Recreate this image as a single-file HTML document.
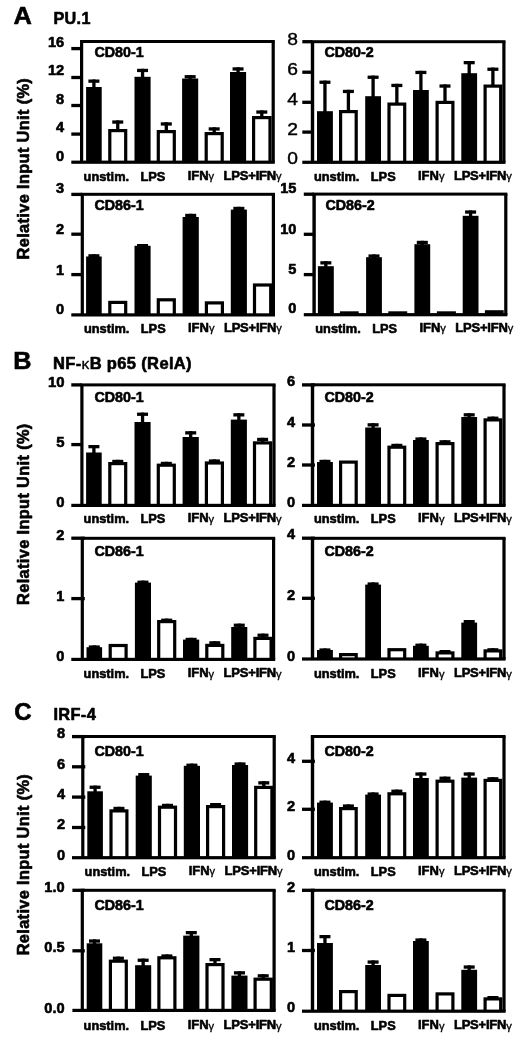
<!DOCTYPE html>
<html><head><meta charset="utf-8"><title>Figure</title>
<style>html,body{margin:0;padding:0;background:#fff}svg{display:block}svg{filter:blur(0.5px)}text{font-family:"Liberation Sans", sans-serif;fill:#000}text.g{font-size:11.2px;stroke:#000;stroke-width:0.3px}text.x{stroke-width:0.65px}text.r{stroke:#000;stroke-width:0.4px}text.b{font-weight:bold;stroke:#000;stroke-width:0.6px;stroke-linejoin:round}text.h{stroke-width:0.6px;letter-spacing:0.35px}</style>
</head><body>
<svg width="520" height="1038" viewBox="0 0 520 1038">
<rect x="0" y="0" width="520" height="1038" fill="#fff"/>
<g>
<rect x="80.00" y="40.00" width="194.80" height="3.00" fill="#000"/>
<rect x="80.00" y="41.50" width="3.20" height="120.80" fill="#000"/>
<rect x="271.60" y="41.50" width="3.20" height="120.80" fill="#000"/>
<rect x="71.30" y="160.60" width="203.50" height="3.20" fill="#000"/>
<rect x="71.30" y="46.95" width="10.20" height="3.30" fill="#000"/>
<text x="64.20" y="47.00" font-size="14.6" class="b" text-anchor="end">16</text>
<rect x="71.30" y="75.85" width="10.20" height="3.30" fill="#000"/>
<text x="64.20" y="75.30" font-size="14.6" class="b" text-anchor="end">12</text>
<rect x="71.30" y="103.85" width="10.20" height="3.30" fill="#000"/>
<text x="64.20" y="104.10" font-size="14.6" class="b" text-anchor="end">8</text>
<rect x="71.30" y="132.45" width="10.20" height="3.30" fill="#000"/>
<text x="64.20" y="131.90" font-size="14.6" class="b" text-anchor="end">4</text>
<text x="64.20" y="161.00" font-size="14.6" class="b" text-anchor="end">0</text>
<rect x="88.40" y="79.50" width="11.00" height="3.30" fill="#000"/>
<rect x="92.25" y="79.50" width="3.30" height="8.50" fill="#000"/>
<rect x="86.10" y="87.00" width="15.60" height="75.30" fill="#000"/>
<rect x="112.25" y="120.40" width="11.00" height="3.30" fill="#000"/>
<rect x="116.10" y="120.40" width="3.30" height="9.60" fill="#000"/>
<rect x="108.20" y="129.00" width="19.10" height="33.30" fill="#000"/>
<rect x="111.40" y="132.20" width="12.70" height="28.40" fill="#fff"/>
<rect x="137.05" y="68.80" width="11.00" height="3.30" fill="#000"/>
<rect x="140.90" y="68.80" width="3.30" height="9.00" fill="#000"/>
<rect x="134.50" y="76.80" width="16.10" height="85.50" fill="#000"/>
<rect x="160.80" y="122.30" width="11.00" height="3.30" fill="#000"/>
<rect x="164.65" y="122.30" width="3.30" height="8.70" fill="#000"/>
<rect x="156.70" y="130.00" width="19.20" height="32.30" fill="#000"/>
<rect x="159.90" y="133.20" width="12.80" height="27.40" fill="#fff"/>
<rect x="184.65" y="75.10" width="11.00" height="3.30" fill="#000"/>
<rect x="188.50" y="75.10" width="3.30" height="4.40" fill="#000"/>
<rect x="182.10" y="78.50" width="16.10" height="83.80" fill="#000"/>
<rect x="208.70" y="127.30" width="11.00" height="3.30" fill="#000"/>
<rect x="212.55" y="127.30" width="3.30" height="5.70" fill="#000"/>
<rect x="204.60" y="132.00" width="19.20" height="30.30" fill="#000"/>
<rect x="207.80" y="135.20" width="12.80" height="25.40" fill="#fff"/>
<rect x="232.55" y="67.30" width="11.00" height="3.30" fill="#000"/>
<rect x="236.40" y="67.30" width="3.30" height="5.70" fill="#000"/>
<rect x="230.00" y="72.00" width="16.10" height="90.30" fill="#000"/>
<rect x="256.30" y="110.40" width="11.00" height="3.30" fill="#000"/>
<rect x="260.15" y="110.40" width="3.30" height="6.60" fill="#000"/>
<rect x="252.00" y="116.00" width="19.60" height="46.30" fill="#000"/>
<rect x="255.20" y="119.20" width="13.20" height="41.40" fill="#fff"/>
<text x="94.40" y="57.00" font-size="14.3" class="b">CD80-1</text>
<text x="83.60" y="180.60" font-size="12.8" class="b x">unstim.</text>
<text x="140.50" y="180.60" font-size="12.8" class="b x">LPS</text>
<text x="187.70" y="179.60" font-size="13" class="b x" textLength="20.9" lengthAdjust="spacing">IFN</text>
<text x="208.60" y="180.20" class="g">&#947;</text>
<text x="223.60" y="179.60" font-size="13" class="b x" textLength="52.6" lengthAdjust="spacing">LPS+IFN</text>
<text x="276.00" y="180.20" class="g">&#947;</text>
</g>
<g>
<rect x="310.80" y="40.20" width="194.70" height="3.00" fill="#000"/>
<rect x="310.80" y="41.70" width="3.40" height="120.70" fill="#000"/>
<rect x="502.30" y="41.70" width="3.20" height="120.70" fill="#000"/>
<rect x="302.30" y="160.70" width="203.20" height="3.20" fill="#000"/>
<rect x="302.30" y="40.05" width="10.00" height="3.30" fill="#000"/>
<text transform="translate(297.90,44.80) scale(1.120,1)" font-size="17.2" class="r" text-anchor="end">8</text>
<rect x="302.30" y="70.55" width="10.00" height="3.30" fill="#000"/>
<text transform="translate(297.90,75.10) scale(1.120,1)" font-size="17.2" class="r" text-anchor="end">6</text>
<rect x="302.30" y="100.65" width="10.00" height="3.30" fill="#000"/>
<text transform="translate(297.90,105.00) scale(1.120,1)" font-size="17.2" class="r" text-anchor="end">4</text>
<rect x="302.30" y="130.45" width="10.00" height="3.30" fill="#000"/>
<text transform="translate(297.90,134.60) scale(1.120,1)" font-size="17.2" class="r" text-anchor="end">2</text>
<text transform="translate(297.90,164.30) scale(1.120,1)" font-size="17.2" class="r" text-anchor="end">0</text>
<rect x="319.45" y="80.60" width="11.00" height="3.30" fill="#000"/>
<rect x="323.30" y="80.60" width="3.30" height="31.60" fill="#000"/>
<rect x="317.00" y="111.20" width="15.90" height="51.20" fill="#000"/>
<rect x="342.90" y="89.80" width="11.00" height="3.30" fill="#000"/>
<rect x="346.75" y="89.80" width="3.30" height="21.20" fill="#000"/>
<rect x="339.00" y="110.00" width="18.80" height="52.40" fill="#000"/>
<rect x="342.20" y="113.20" width="12.40" height="47.50" fill="#fff"/>
<rect x="367.60" y="75.60" width="11.00" height="3.30" fill="#000"/>
<rect x="371.45" y="75.60" width="3.30" height="21.60" fill="#000"/>
<rect x="365.20" y="96.20" width="15.80" height="66.20" fill="#000"/>
<rect x="391.35" y="83.80" width="11.00" height="3.30" fill="#000"/>
<rect x="395.20" y="83.80" width="3.30" height="19.70" fill="#000"/>
<rect x="387.40" y="102.50" width="18.90" height="59.90" fill="#000"/>
<rect x="390.60" y="105.70" width="12.50" height="55.00" fill="#fff"/>
<rect x="415.40" y="70.80" width="11.00" height="3.30" fill="#000"/>
<rect x="419.25" y="70.80" width="3.30" height="20.20" fill="#000"/>
<rect x="413.00" y="90.00" width="15.80" height="72.40" fill="#000"/>
<rect x="439.50" y="84.40" width="11.00" height="3.30" fill="#000"/>
<rect x="443.35" y="84.40" width="3.30" height="17.40" fill="#000"/>
<rect x="435.50" y="100.80" width="19.00" height="61.60" fill="#000"/>
<rect x="438.70" y="104.00" width="12.60" height="56.70" fill="#fff"/>
<rect x="463.70" y="61.00" width="11.00" height="3.30" fill="#000"/>
<rect x="467.55" y="61.00" width="3.30" height="13.20" fill="#000"/>
<rect x="461.30" y="73.20" width="15.80" height="89.20" fill="#000"/>
<rect x="487.40" y="67.60" width="11.00" height="3.30" fill="#000"/>
<rect x="491.25" y="67.60" width="3.30" height="17.90" fill="#000"/>
<rect x="483.50" y="84.50" width="18.80" height="77.90" fill="#000"/>
<rect x="486.70" y="87.70" width="12.40" height="73.00" fill="#fff"/>
<text x="324.40" y="57.00" font-size="14.3" class="b">CD80-2</text>
<text x="313.90" y="180.60" font-size="12.8" class="b x">unstim.</text>
<text x="370.80" y="180.60" font-size="12.8" class="b x">LPS</text>
<text x="418.00" y="179.60" font-size="13" class="b x" textLength="20.9" lengthAdjust="spacing">IFN</text>
<text x="438.90" y="180.20" class="g">&#947;</text>
<text x="453.90" y="179.60" font-size="13" class="b x" textLength="52.6" lengthAdjust="spacing">LPS+IFN</text>
<text x="506.30" y="180.20" class="g">&#947;</text>
</g>
<g>
<rect x="80.70" y="192.80" width="194.30" height="3.00" fill="#000"/>
<rect x="80.70" y="194.30" width="3.20" height="120.70" fill="#000"/>
<rect x="271.80" y="194.30" width="3.20" height="120.70" fill="#000"/>
<rect x="71.30" y="313.30" width="203.70" height="3.20" fill="#000"/>
<rect x="71.30" y="192.75" width="10.90" height="3.30" fill="#000"/>
<text x="64.20" y="193.20" font-size="14.6" class="b" text-anchor="end">3</text>
<rect x="71.30" y="232.55" width="10.90" height="3.30" fill="#000"/>
<text x="64.20" y="234.40" font-size="14.6" class="b" text-anchor="end">2</text>
<rect x="71.30" y="272.95" width="10.90" height="3.30" fill="#000"/>
<text x="64.20" y="274.70" font-size="14.6" class="b" text-anchor="end">1</text>
<text x="64.20" y="314.30" font-size="14.6" class="b" text-anchor="end">0</text>
<rect x="88.40" y="254.20" width="11.00" height="3.30" fill="#000"/>
<rect x="92.25" y="254.20" width="3.30" height="3.30" fill="#000"/>
<rect x="86.10" y="256.50" width="15.60" height="58.50" fill="#000"/>
<rect x="108.20" y="300.80" width="19.10" height="14.20" fill="#000"/>
<rect x="111.40" y="304.00" width="12.70" height="9.30" fill="#fff"/>
<rect x="137.05" y="244.00" width="11.00" height="3.30" fill="#000"/>
<rect x="140.90" y="244.00" width="3.30" height="2.80" fill="#000"/>
<rect x="134.50" y="245.80" width="16.10" height="69.20" fill="#000"/>
<rect x="156.70" y="298.20" width="19.20" height="16.80" fill="#000"/>
<rect x="159.90" y="301.40" width="12.80" height="11.90" fill="#fff"/>
<rect x="185.20" y="213.80" width="11.00" height="3.30" fill="#000"/>
<rect x="189.05" y="213.80" width="3.30" height="4.20" fill="#000"/>
<rect x="182.60" y="217.00" width="16.20" height="98.00" fill="#000"/>
<rect x="204.80" y="301.30" width="19.20" height="13.70" fill="#000"/>
<rect x="208.00" y="304.50" width="12.80" height="8.80" fill="#fff"/>
<rect x="233.35" y="206.80" width="11.00" height="3.30" fill="#000"/>
<rect x="237.20" y="206.80" width="3.30" height="3.80" fill="#000"/>
<rect x="230.80" y="209.60" width="16.10" height="105.40" fill="#000"/>
<rect x="252.90" y="283.40" width="19.40" height="31.60" fill="#000"/>
<rect x="256.10" y="286.60" width="13.00" height="26.70" fill="#fff"/>
<text x="94.40" y="210.00" font-size="14.3" class="b">CD86-1</text>
<text x="83.90" y="332.60" font-size="12.8" class="b x">unstim.</text>
<text x="140.80" y="332.60" font-size="12.8" class="b x">LPS</text>
<text x="188.00" y="331.60" font-size="13" class="b x" textLength="20.9" lengthAdjust="spacing">IFN</text>
<text x="208.90" y="332.20" class="g">&#947;</text>
<text x="223.90" y="331.60" font-size="13" class="b x" textLength="52.6" lengthAdjust="spacing">LPS+IFN</text>
<text x="276.30" y="332.20" class="g">&#947;</text>
</g>
<g>
<rect x="312.40" y="192.60" width="195.00" height="3.00" fill="#000"/>
<rect x="312.40" y="194.10" width="3.40" height="120.70" fill="#000"/>
<rect x="504.20" y="194.10" width="3.20" height="120.70" fill="#000"/>
<rect x="303.80" y="313.10" width="203.60" height="3.20" fill="#000"/>
<rect x="303.80" y="192.55" width="10.10" height="3.30" fill="#000"/>
<text x="296.40" y="192.60" font-size="14.6" class="b" text-anchor="end">15</text>
<rect x="303.80" y="232.65" width="10.10" height="3.30" fill="#000"/>
<text x="296.40" y="233.70" font-size="14.6" class="b" text-anchor="end">10</text>
<rect x="303.80" y="272.95" width="10.10" height="3.30" fill="#000"/>
<text x="296.40" y="274.40" font-size="14.6" class="b" text-anchor="end">5</text>
<text x="296.40" y="313.20" font-size="14.6" class="b" text-anchor="end">0</text>
<rect x="320.35" y="261.20" width="11.00" height="3.30" fill="#000"/>
<rect x="324.20" y="261.20" width="3.30" height="6.00" fill="#000"/>
<rect x="317.90" y="266.20" width="15.90" height="48.60" fill="#000"/>
<rect x="339.90" y="311.30" width="18.80" height="3.50" fill="#000"/>
<rect x="368.50" y="254.40" width="11.00" height="3.30" fill="#000"/>
<rect x="372.35" y="254.40" width="3.30" height="3.80" fill="#000"/>
<rect x="366.10" y="257.20" width="15.80" height="57.60" fill="#000"/>
<rect x="388.30" y="311.30" width="18.90" height="3.50" fill="#000"/>
<rect x="416.80" y="240.80" width="11.00" height="3.30" fill="#000"/>
<rect x="420.65" y="240.80" width="3.30" height="4.40" fill="#000"/>
<rect x="414.40" y="244.20" width="15.80" height="70.60" fill="#000"/>
<rect x="436.90" y="311.30" width="19.00" height="3.50" fill="#000"/>
<rect x="465.10" y="210.40" width="11.00" height="3.30" fill="#000"/>
<rect x="468.95" y="210.40" width="3.30" height="6.40" fill="#000"/>
<rect x="462.70" y="215.80" width="15.80" height="99.00" fill="#000"/>
<rect x="484.90" y="310.20" width="18.80" height="4.60" fill="#000"/>
<text x="325.40" y="210.00" font-size="14.3" class="b">CD86-2</text>
<text x="315.30" y="332.60" font-size="12.8" class="b x">unstim.</text>
<text x="372.20" y="332.60" font-size="12.8" class="b x">LPS</text>
<text x="419.40" y="331.60" font-size="13" class="b x" textLength="20.9" lengthAdjust="spacing">IFN</text>
<text x="440.30" y="332.20" class="g">&#947;</text>
<text x="455.30" y="331.60" font-size="13" class="b x" textLength="52.6" lengthAdjust="spacing">LPS+IFN</text>
<text x="507.70" y="332.20" class="g">&#947;</text>
</g>
<g>
<rect x="80.30" y="383.40" width="195.30" height="3.00" fill="#000"/>
<rect x="80.30" y="384.90" width="3.20" height="120.60" fill="#000"/>
<rect x="272.40" y="384.90" width="3.20" height="120.60" fill="#000"/>
<rect x="71.30" y="503.80" width="204.30" height="3.20" fill="#000"/>
<rect x="71.30" y="383.25" width="10.50" height="3.30" fill="#000"/>
<text x="64.60" y="386.70" font-size="14.9" class="b" text-anchor="end">10</text>
<rect x="71.30" y="442.95" width="10.50" height="3.30" fill="#000"/>
<text x="64.60" y="447.00" font-size="14.9" class="b" text-anchor="end">5</text>
<text x="64.60" y="507.00" font-size="14.9" class="b" text-anchor="end">0</text>
<rect x="88.40" y="445.00" width="11.00" height="3.30" fill="#000"/>
<rect x="92.25" y="445.00" width="3.30" height="8.50" fill="#000"/>
<rect x="86.10" y="452.50" width="15.60" height="53.00" fill="#000"/>
<rect x="112.25" y="459.80" width="11.00" height="3.30" fill="#000"/>
<rect x="116.10" y="459.80" width="3.30" height="3.20" fill="#000"/>
<rect x="108.20" y="462.00" width="19.10" height="43.50" fill="#000"/>
<rect x="111.40" y="465.20" width="12.70" height="38.60" fill="#fff"/>
<rect x="137.05" y="412.60" width="11.00" height="3.30" fill="#000"/>
<rect x="140.90" y="412.60" width="3.30" height="10.40" fill="#000"/>
<rect x="134.50" y="422.00" width="16.10" height="83.50" fill="#000"/>
<rect x="160.80" y="461.80" width="11.00" height="3.30" fill="#000"/>
<rect x="164.65" y="461.80" width="3.30" height="2.80" fill="#000"/>
<rect x="156.70" y="463.60" width="19.20" height="41.90" fill="#000"/>
<rect x="159.90" y="466.80" width="12.80" height="37.00" fill="#fff"/>
<rect x="185.20" y="431.20" width="11.00" height="3.30" fill="#000"/>
<rect x="189.05" y="431.20" width="3.30" height="6.80" fill="#000"/>
<rect x="182.60" y="437.00" width="16.20" height="68.50" fill="#000"/>
<rect x="208.90" y="459.40" width="11.00" height="3.30" fill="#000"/>
<rect x="212.75" y="459.40" width="3.30" height="3.00" fill="#000"/>
<rect x="204.80" y="461.40" width="19.20" height="44.10" fill="#000"/>
<rect x="208.00" y="464.60" width="12.80" height="39.20" fill="#fff"/>
<rect x="233.35" y="413.20" width="11.00" height="3.30" fill="#000"/>
<rect x="237.20" y="413.20" width="3.30" height="7.40" fill="#000"/>
<rect x="230.80" y="419.60" width="16.10" height="85.90" fill="#000"/>
<rect x="257.10" y="437.80" width="11.00" height="3.30" fill="#000"/>
<rect x="260.95" y="437.80" width="3.30" height="4.50" fill="#000"/>
<rect x="252.90" y="441.30" width="19.40" height="64.20" fill="#000"/>
<rect x="256.10" y="444.50" width="13.00" height="59.30" fill="#fff"/>
<text x="94.40" y="402.00" font-size="14.3" class="b">CD80-1</text>
<text x="83.60" y="523.30" font-size="12.8" class="b x">unstim.</text>
<text x="140.50" y="523.30" font-size="12.8" class="b x">LPS</text>
<text x="187.70" y="522.30" font-size="13" class="b x" textLength="20.9" lengthAdjust="spacing">IFN</text>
<text x="208.60" y="522.90" class="g">&#947;</text>
<text x="223.60" y="522.30" font-size="13" class="b x" textLength="52.6" lengthAdjust="spacing">LPS+IFN</text>
<text x="276.00" y="522.90" class="g">&#947;</text>
</g>
<g>
<rect x="310.80" y="383.30" width="194.80" height="3.00" fill="#000"/>
<rect x="310.80" y="384.80" width="3.40" height="120.70" fill="#000"/>
<rect x="502.40" y="384.80" width="3.20" height="120.70" fill="#000"/>
<rect x="302.00" y="503.80" width="203.60" height="3.20" fill="#000"/>
<rect x="302.00" y="383.25" width="12.90" height="3.30" fill="#000"/>
<text x="295.20" y="386.30" font-size="14.6" class="b" text-anchor="end">6</text>
<rect x="302.00" y="423.35" width="12.90" height="3.30" fill="#000"/>
<text x="295.20" y="427.00" font-size="14.6" class="b" text-anchor="end">4</text>
<rect x="302.00" y="463.35" width="12.90" height="3.30" fill="#000"/>
<text x="295.20" y="467.20" font-size="14.6" class="b" text-anchor="end">2</text>
<text x="295.20" y="506.90" font-size="14.6" class="b" text-anchor="end">0</text>
<rect x="319.45" y="459.80" width="11.00" height="3.30" fill="#000"/>
<rect x="323.30" y="459.80" width="3.30" height="3.20" fill="#000"/>
<rect x="317.00" y="462.00" width="15.90" height="43.50" fill="#000"/>
<rect x="339.00" y="460.50" width="18.80" height="45.00" fill="#000"/>
<rect x="342.20" y="463.70" width="12.40" height="40.10" fill="#fff"/>
<rect x="367.60" y="423.20" width="11.00" height="3.30" fill="#000"/>
<rect x="371.45" y="423.20" width="3.30" height="5.30" fill="#000"/>
<rect x="365.20" y="427.50" width="15.80" height="78.00" fill="#000"/>
<rect x="391.35" y="443.80" width="11.00" height="3.30" fill="#000"/>
<rect x="395.20" y="443.80" width="3.30" height="2.80" fill="#000"/>
<rect x="387.40" y="445.60" width="18.90" height="59.90" fill="#000"/>
<rect x="390.60" y="448.80" width="12.50" height="55.00" fill="#fff"/>
<rect x="415.40" y="437.40" width="11.00" height="3.30" fill="#000"/>
<rect x="419.25" y="437.40" width="3.30" height="3.60" fill="#000"/>
<rect x="413.00" y="440.00" width="15.80" height="65.50" fill="#000"/>
<rect x="439.50" y="440.20" width="11.00" height="3.30" fill="#000"/>
<rect x="443.35" y="440.20" width="3.30" height="2.80" fill="#000"/>
<rect x="435.50" y="442.00" width="19.00" height="63.50" fill="#000"/>
<rect x="438.70" y="445.20" width="12.60" height="58.60" fill="#fff"/>
<rect x="463.70" y="413.20" width="11.00" height="3.30" fill="#000"/>
<rect x="467.55" y="413.20" width="3.30" height="4.80" fill="#000"/>
<rect x="461.30" y="417.00" width="15.80" height="88.50" fill="#000"/>
<rect x="487.40" y="416.60" width="11.00" height="3.30" fill="#000"/>
<rect x="491.25" y="416.60" width="3.30" height="2.70" fill="#000"/>
<rect x="483.50" y="418.30" width="18.80" height="87.20" fill="#000"/>
<rect x="486.70" y="421.50" width="12.40" height="82.30" fill="#fff"/>
<text x="324.40" y="402.00" font-size="14.3" class="b">CD80-2</text>
<text x="313.90" y="523.30" font-size="12.8" class="b x">unstim.</text>
<text x="370.80" y="523.30" font-size="12.8" class="b x">LPS</text>
<text x="418.00" y="522.30" font-size="13" class="b x" textLength="20.9" lengthAdjust="spacing">IFN</text>
<text x="438.90" y="522.90" class="g">&#947;</text>
<text x="453.90" y="522.30" font-size="13" class="b x" textLength="52.6" lengthAdjust="spacing">LPS+IFN</text>
<text x="506.30" y="522.90" class="g">&#947;</text>
</g>
<g>
<rect x="80.70" y="536.80" width="194.50" height="3.00" fill="#000"/>
<rect x="80.70" y="538.30" width="3.20" height="121.20" fill="#000"/>
<rect x="272.00" y="538.30" width="3.20" height="121.20" fill="#000"/>
<rect x="71.30" y="657.80" width="203.90" height="3.20" fill="#000"/>
<rect x="71.30" y="536.55" width="13.50" height="3.30" fill="#000"/>
<text x="64.40" y="539.80" font-size="14.6" class="b" text-anchor="end">2</text>
<rect x="71.30" y="596.95" width="13.50" height="3.30" fill="#000"/>
<text x="64.40" y="600.60" font-size="14.6" class="b" text-anchor="end">1</text>
<text x="64.40" y="661.00" font-size="14.6" class="b" text-anchor="end">0</text>
<rect x="88.80" y="645.40" width="11.00" height="3.30" fill="#000"/>
<rect x="92.65" y="645.40" width="3.30" height="2.80" fill="#000"/>
<rect x="86.50" y="647.20" width="15.60" height="12.30" fill="#000"/>
<rect x="108.60" y="643.90" width="19.10" height="15.60" fill="#000"/>
<rect x="111.80" y="647.10" width="12.70" height="10.70" fill="#fff"/>
<rect x="137.45" y="580.60" width="11.00" height="3.30" fill="#000"/>
<rect x="141.30" y="580.60" width="3.30" height="3.00" fill="#000"/>
<rect x="134.90" y="582.60" width="16.10" height="76.90" fill="#000"/>
<rect x="161.20" y="618.60" width="11.00" height="3.30" fill="#000"/>
<rect x="165.05" y="618.60" width="3.30" height="2.40" fill="#000"/>
<rect x="157.10" y="620.00" width="19.20" height="39.50" fill="#000"/>
<rect x="160.30" y="623.20" width="12.80" height="34.60" fill="#fff"/>
<rect x="185.60" y="637.80" width="11.00" height="3.30" fill="#000"/>
<rect x="189.45" y="637.80" width="3.30" height="2.80" fill="#000"/>
<rect x="183.00" y="639.60" width="16.20" height="19.90" fill="#000"/>
<rect x="209.30" y="641.20" width="11.00" height="3.30" fill="#000"/>
<rect x="213.15" y="641.20" width="3.30" height="3.60" fill="#000"/>
<rect x="205.20" y="643.80" width="19.20" height="15.70" fill="#000"/>
<rect x="208.40" y="647.00" width="12.80" height="10.80" fill="#fff"/>
<rect x="233.75" y="623.60" width="11.00" height="3.30" fill="#000"/>
<rect x="237.60" y="623.60" width="3.30" height="4.40" fill="#000"/>
<rect x="231.20" y="627.00" width="16.10" height="32.50" fill="#000"/>
<rect x="257.50" y="633.60" width="11.00" height="3.30" fill="#000"/>
<rect x="261.35" y="633.60" width="3.30" height="4.20" fill="#000"/>
<rect x="253.30" y="636.80" width="19.40" height="22.70" fill="#000"/>
<rect x="256.50" y="640.00" width="13.00" height="17.80" fill="#fff"/>
<text x="94.40" y="556.30" font-size="14.3" class="b">CD86-1</text>
<text x="83.60" y="677.90" font-size="12.8" class="b x">unstim.</text>
<text x="140.50" y="677.90" font-size="12.8" class="b x">LPS</text>
<text x="187.70" y="676.90" font-size="13" class="b x" textLength="20.9" lengthAdjust="spacing">IFN</text>
<text x="208.60" y="677.50" class="g">&#947;</text>
<text x="223.60" y="676.90" font-size="13" class="b x" textLength="52.6" lengthAdjust="spacing">LPS+IFN</text>
<text x="276.00" y="677.50" class="g">&#947;</text>
</g>
<g>
<rect x="310.80" y="536.80" width="194.80" height="3.00" fill="#000"/>
<rect x="310.80" y="538.30" width="3.40" height="120.80" fill="#000"/>
<rect x="502.40" y="538.30" width="3.20" height="120.80" fill="#000"/>
<rect x="302.00" y="657.40" width="203.60" height="3.20" fill="#000"/>
<rect x="302.00" y="536.55" width="12.90" height="3.30" fill="#000"/>
<text x="295.20" y="539.30" font-size="14.6" class="b" text-anchor="end">4</text>
<rect x="302.00" y="596.65" width="12.90" height="3.30" fill="#000"/>
<text x="295.20" y="599.80" font-size="14.6" class="b" text-anchor="end">2</text>
<text x="295.20" y="661.00" font-size="14.6" class="b" text-anchor="end">0</text>
<rect x="319.45" y="648.40" width="11.00" height="3.30" fill="#000"/>
<rect x="323.30" y="648.40" width="3.30" height="2.60" fill="#000"/>
<rect x="317.00" y="650.00" width="15.90" height="9.10" fill="#000"/>
<rect x="339.00" y="653.00" width="18.80" height="6.10" fill="#000"/>
<rect x="342.20" y="656.20" width="12.40" height="1.20" fill="#fff"/>
<rect x="367.60" y="582.40" width="11.00" height="3.30" fill="#000"/>
<rect x="371.45" y="582.40" width="3.30" height="3.20" fill="#000"/>
<rect x="365.20" y="584.60" width="15.80" height="74.50" fill="#000"/>
<rect x="387.40" y="648.10" width="18.90" height="11.00" fill="#000"/>
<rect x="390.60" y="651.30" width="12.50" height="6.10" fill="#fff"/>
<rect x="415.40" y="643.60" width="11.00" height="3.30" fill="#000"/>
<rect x="419.25" y="643.60" width="3.30" height="3.20" fill="#000"/>
<rect x="413.00" y="645.80" width="15.80" height="13.30" fill="#000"/>
<rect x="439.50" y="650.00" width="11.00" height="3.30" fill="#000"/>
<rect x="443.35" y="650.00" width="3.30" height="2.30" fill="#000"/>
<rect x="435.50" y="651.30" width="19.00" height="7.80" fill="#000"/>
<rect x="438.70" y="654.50" width="12.60" height="2.90" fill="#fff"/>
<rect x="463.70" y="620.00" width="11.00" height="3.30" fill="#000"/>
<rect x="467.55" y="620.00" width="3.30" height="3.60" fill="#000"/>
<rect x="461.30" y="622.60" width="15.80" height="36.50" fill="#000"/>
<rect x="487.40" y="648.20" width="11.00" height="3.30" fill="#000"/>
<rect x="491.25" y="648.20" width="3.30" height="2.10" fill="#000"/>
<rect x="483.50" y="649.30" width="18.80" height="9.80" fill="#000"/>
<rect x="486.70" y="652.50" width="12.40" height="4.90" fill="#fff"/>
<text x="324.40" y="556.30" font-size="14.3" class="b">CD86-2</text>
<text x="313.90" y="677.90" font-size="12.8" class="b x">unstim.</text>
<text x="370.80" y="677.90" font-size="12.8" class="b x">LPS</text>
<text x="418.00" y="676.90" font-size="13" class="b x" textLength="20.9" lengthAdjust="spacing">IFN</text>
<text x="438.90" y="677.50" class="g">&#947;</text>
<text x="453.90" y="676.90" font-size="13" class="b x" textLength="52.6" lengthAdjust="spacing">LPS+IFN</text>
<text x="506.30" y="677.50" class="g">&#947;</text>
</g>
<g>
<rect x="81.20" y="735.00" width="194.60" height="3.00" fill="#000"/>
<rect x="81.20" y="736.50" width="3.20" height="121.30" fill="#000"/>
<rect x="272.60" y="736.50" width="3.20" height="121.30" fill="#000"/>
<rect x="72.00" y="856.10" width="203.80" height="3.20" fill="#000"/>
<rect x="72.00" y="734.95" width="13.30" height="3.30" fill="#000"/>
<text x="65.00" y="738.10" font-size="14.6" class="b" text-anchor="end">8</text>
<rect x="72.00" y="765.15" width="13.30" height="3.30" fill="#000"/>
<text x="65.00" y="768.60" font-size="14.6" class="b" text-anchor="end">6</text>
<rect x="72.00" y="795.45" width="13.30" height="3.30" fill="#000"/>
<text x="65.00" y="798.80" font-size="14.6" class="b" text-anchor="end">4</text>
<rect x="72.00" y="825.85" width="13.30" height="3.30" fill="#000"/>
<text x="65.00" y="829.30" font-size="14.6" class="b" text-anchor="end">2</text>
<text x="65.00" y="859.70" font-size="14.6" class="b" text-anchor="end">0</text>
<rect x="89.60" y="785.60" width="11.00" height="3.30" fill="#000"/>
<rect x="93.45" y="785.60" width="3.30" height="6.70" fill="#000"/>
<rect x="87.30" y="791.30" width="15.60" height="66.50" fill="#000"/>
<rect x="113.45" y="806.80" width="11.00" height="3.30" fill="#000"/>
<rect x="117.30" y="806.80" width="3.30" height="3.50" fill="#000"/>
<rect x="109.40" y="809.30" width="19.10" height="48.50" fill="#000"/>
<rect x="112.60" y="812.50" width="12.70" height="43.60" fill="#fff"/>
<rect x="138.25" y="773.00" width="11.00" height="3.30" fill="#000"/>
<rect x="142.10" y="773.00" width="3.30" height="3.60" fill="#000"/>
<rect x="135.70" y="775.60" width="16.10" height="82.20" fill="#000"/>
<rect x="162.00" y="803.80" width="11.00" height="3.30" fill="#000"/>
<rect x="165.85" y="803.80" width="3.30" height="2.80" fill="#000"/>
<rect x="157.90" y="805.60" width="19.20" height="52.20" fill="#000"/>
<rect x="161.10" y="808.80" width="12.80" height="47.30" fill="#fff"/>
<rect x="186.40" y="763.60" width="11.00" height="3.30" fill="#000"/>
<rect x="190.25" y="763.60" width="3.30" height="3.20" fill="#000"/>
<rect x="183.80" y="765.80" width="16.20" height="92.00" fill="#000"/>
<rect x="210.10" y="803.00" width="11.00" height="3.30" fill="#000"/>
<rect x="213.95" y="803.00" width="3.30" height="3.00" fill="#000"/>
<rect x="206.00" y="805.00" width="19.20" height="52.80" fill="#000"/>
<rect x="209.20" y="808.20" width="12.80" height="47.90" fill="#fff"/>
<rect x="234.55" y="762.40" width="11.00" height="3.30" fill="#000"/>
<rect x="238.40" y="762.40" width="3.30" height="3.60" fill="#000"/>
<rect x="232.00" y="765.00" width="16.10" height="92.80" fill="#000"/>
<rect x="258.30" y="781.20" width="11.00" height="3.30" fill="#000"/>
<rect x="262.15" y="781.20" width="3.30" height="5.60" fill="#000"/>
<rect x="254.10" y="785.80" width="19.40" height="72.00" fill="#000"/>
<rect x="257.30" y="789.00" width="13.00" height="67.10" fill="#fff"/>
<text x="94.40" y="755.80" font-size="14.3" class="b">CD80-1</text>
<text x="84.60" y="875.60" font-size="12.8" class="b x">unstim.</text>
<text x="141.50" y="875.60" font-size="12.8" class="b x">LPS</text>
<text x="188.70" y="874.60" font-size="13" class="b x" textLength="20.9" lengthAdjust="spacing">IFN</text>
<text x="209.60" y="875.20" class="g">&#947;</text>
<text x="224.60" y="874.60" font-size="13" class="b x" textLength="52.6" lengthAdjust="spacing">LPS+IFN</text>
<text x="277.00" y="875.20" class="g">&#947;</text>
</g>
<g>
<rect x="310.80" y="735.00" width="194.80" height="3.00" fill="#000"/>
<rect x="310.80" y="736.50" width="3.40" height="121.30" fill="#000"/>
<rect x="502.40" y="736.50" width="3.20" height="121.30" fill="#000"/>
<rect x="302.00" y="856.10" width="203.60" height="3.20" fill="#000"/>
<rect x="302.00" y="759.65" width="12.90" height="3.30" fill="#000"/>
<text x="295.20" y="763.10" font-size="14.6" class="b" text-anchor="end">4</text>
<rect x="302.00" y="807.65" width="12.90" height="3.30" fill="#000"/>
<text x="295.20" y="811.30" font-size="14.6" class="b" text-anchor="end">2</text>
<text x="295.20" y="859.70" font-size="14.6" class="b" text-anchor="end">0</text>
<rect x="319.45" y="800.60" width="11.00" height="3.30" fill="#000"/>
<rect x="323.30" y="800.60" width="3.30" height="3.00" fill="#000"/>
<rect x="317.00" y="802.60" width="15.90" height="55.20" fill="#000"/>
<rect x="342.90" y="804.40" width="11.00" height="3.30" fill="#000"/>
<rect x="346.75" y="804.40" width="3.30" height="3.60" fill="#000"/>
<rect x="339.00" y="807.00" width="18.80" height="50.80" fill="#000"/>
<rect x="342.20" y="810.20" width="12.40" height="45.90" fill="#fff"/>
<rect x="367.60" y="792.40" width="11.00" height="3.30" fill="#000"/>
<rect x="371.45" y="792.40" width="3.30" height="3.20" fill="#000"/>
<rect x="365.20" y="794.60" width="15.80" height="63.20" fill="#000"/>
<rect x="391.35" y="789.60" width="11.00" height="3.30" fill="#000"/>
<rect x="395.20" y="789.60" width="3.30" height="3.60" fill="#000"/>
<rect x="387.40" y="792.20" width="18.90" height="65.60" fill="#000"/>
<rect x="390.60" y="795.40" width="12.50" height="60.70" fill="#fff"/>
<rect x="415.40" y="772.40" width="11.00" height="3.30" fill="#000"/>
<rect x="419.25" y="772.40" width="3.30" height="6.60" fill="#000"/>
<rect x="413.00" y="778.00" width="15.80" height="79.80" fill="#000"/>
<rect x="439.50" y="776.60" width="11.00" height="3.30" fill="#000"/>
<rect x="443.35" y="776.60" width="3.30" height="4.00" fill="#000"/>
<rect x="435.50" y="779.60" width="19.00" height="78.20" fill="#000"/>
<rect x="438.70" y="782.80" width="12.60" height="73.30" fill="#fff"/>
<rect x="463.70" y="772.40" width="11.00" height="3.30" fill="#000"/>
<rect x="467.55" y="772.40" width="3.30" height="6.20" fill="#000"/>
<rect x="461.30" y="777.60" width="15.80" height="80.20" fill="#000"/>
<rect x="487.40" y="777.20" width="11.00" height="3.30" fill="#000"/>
<rect x="491.25" y="777.20" width="3.30" height="2.60" fill="#000"/>
<rect x="483.50" y="778.80" width="18.80" height="79.00" fill="#000"/>
<rect x="486.70" y="782.00" width="12.40" height="74.10" fill="#fff"/>
<text x="324.40" y="755.80" font-size="14.3" class="b">CD80-2</text>
<text x="313.90" y="875.60" font-size="12.8" class="b x">unstim.</text>
<text x="370.80" y="875.60" font-size="12.8" class="b x">LPS</text>
<text x="418.00" y="874.60" font-size="13" class="b x" textLength="20.9" lengthAdjust="spacing">IFN</text>
<text x="438.90" y="875.20" class="g">&#947;</text>
<text x="453.90" y="874.60" font-size="13" class="b x" textLength="52.6" lengthAdjust="spacing">LPS+IFN</text>
<text x="506.30" y="875.20" class="g">&#947;</text>
</g>
<g>
<rect x="80.70" y="888.80" width="195.00" height="3.00" fill="#000"/>
<rect x="80.70" y="890.30" width="3.20" height="120.20" fill="#000"/>
<rect x="272.50" y="890.30" width="3.20" height="120.20" fill="#000"/>
<rect x="72.40" y="1008.80" width="203.30" height="3.20" fill="#000"/>
<rect x="72.40" y="888.65" width="12.40" height="3.30" fill="#000"/>
<text x="64.60" y="891.80" font-size="14.6" class="b" text-anchor="end">1.0</text>
<rect x="72.40" y="949.15" width="12.40" height="3.30" fill="#000"/>
<text x="64.60" y="952.30" font-size="14.6" class="b" text-anchor="end">0.5</text>
<text x="64.60" y="1013.00" font-size="14.6" class="b" text-anchor="end">0.0</text>
<rect x="89.00" y="939.40" width="11.00" height="3.30" fill="#000"/>
<rect x="92.85" y="939.40" width="3.30" height="4.90" fill="#000"/>
<rect x="86.70" y="943.30" width="15.60" height="67.20" fill="#000"/>
<rect x="112.85" y="956.60" width="11.00" height="3.30" fill="#000"/>
<rect x="116.70" y="956.60" width="3.30" height="4.00" fill="#000"/>
<rect x="108.80" y="959.60" width="19.10" height="50.90" fill="#000"/>
<rect x="112.00" y="962.80" width="12.70" height="46.00" fill="#fff"/>
<rect x="137.65" y="958.60" width="11.00" height="3.30" fill="#000"/>
<rect x="141.50" y="958.60" width="3.30" height="7.60" fill="#000"/>
<rect x="135.10" y="965.20" width="16.10" height="45.30" fill="#000"/>
<rect x="161.40" y="954.40" width="11.00" height="3.30" fill="#000"/>
<rect x="165.25" y="954.40" width="3.30" height="2.80" fill="#000"/>
<rect x="157.30" y="956.20" width="19.20" height="54.30" fill="#000"/>
<rect x="160.50" y="959.40" width="12.80" height="49.40" fill="#fff"/>
<rect x="185.80" y="931.00" width="11.00" height="3.30" fill="#000"/>
<rect x="189.65" y="931.00" width="3.30" height="5.60" fill="#000"/>
<rect x="183.20" y="935.60" width="16.20" height="74.90" fill="#000"/>
<rect x="209.50" y="958.00" width="11.00" height="3.30" fill="#000"/>
<rect x="213.35" y="958.00" width="3.30" height="6.00" fill="#000"/>
<rect x="205.40" y="963.00" width="19.20" height="47.50" fill="#000"/>
<rect x="208.60" y="966.20" width="12.80" height="42.60" fill="#fff"/>
<rect x="233.95" y="971.20" width="11.00" height="3.30" fill="#000"/>
<rect x="237.80" y="971.20" width="3.30" height="5.40" fill="#000"/>
<rect x="231.40" y="975.60" width="16.10" height="34.90" fill="#000"/>
<rect x="257.70" y="974.20" width="11.00" height="3.30" fill="#000"/>
<rect x="261.55" y="974.20" width="3.30" height="4.40" fill="#000"/>
<rect x="253.50" y="977.60" width="19.40" height="32.90" fill="#000"/>
<rect x="256.70" y="980.80" width="13.00" height="28.00" fill="#fff"/>
<text x="94.40" y="909.80" font-size="14.3" class="b">CD86-1</text>
<text x="83.60" y="1029.90" font-size="12.8" class="b x">unstim.</text>
<text x="140.50" y="1029.90" font-size="12.8" class="b x">LPS</text>
<text x="187.70" y="1028.90" font-size="13" class="b x" textLength="20.9" lengthAdjust="spacing">IFN</text>
<text x="208.60" y="1029.50" class="g">&#947;</text>
<text x="223.60" y="1028.90" font-size="13" class="b x" textLength="52.6" lengthAdjust="spacing">LPS+IFN</text>
<text x="276.00" y="1029.50" class="g">&#947;</text>
</g>
<g>
<rect x="310.80" y="888.80" width="194.80" height="3.00" fill="#000"/>
<rect x="310.80" y="890.30" width="3.40" height="121.00" fill="#000"/>
<rect x="502.40" y="890.30" width="3.20" height="121.00" fill="#000"/>
<rect x="302.00" y="1009.60" width="203.60" height="3.20" fill="#000"/>
<rect x="302.00" y="888.65" width="12.90" height="3.30" fill="#000"/>
<text x="295.20" y="891.60" font-size="14.6" class="b" text-anchor="end">2</text>
<rect x="302.00" y="948.85" width="12.90" height="3.30" fill="#000"/>
<text x="295.20" y="952.30" font-size="14.6" class="b" text-anchor="end">1</text>
<text x="295.20" y="1012.20" font-size="14.6" class="b" text-anchor="end">0</text>
<rect x="319.45" y="935.00" width="11.00" height="3.30" fill="#000"/>
<rect x="323.30" y="935.00" width="3.30" height="9.00" fill="#000"/>
<rect x="317.00" y="943.00" width="15.90" height="68.30" fill="#000"/>
<rect x="339.00" y="990.00" width="18.80" height="21.30" fill="#000"/>
<rect x="342.20" y="993.20" width="12.40" height="16.40" fill="#fff"/>
<rect x="367.60" y="960.40" width="11.00" height="3.30" fill="#000"/>
<rect x="371.45" y="960.40" width="3.30" height="5.60" fill="#000"/>
<rect x="365.20" y="965.00" width="15.80" height="46.30" fill="#000"/>
<rect x="387.40" y="993.80" width="18.90" height="17.50" fill="#000"/>
<rect x="390.60" y="997.00" width="12.50" height="12.60" fill="#fff"/>
<rect x="415.40" y="938.40" width="11.00" height="3.30" fill="#000"/>
<rect x="419.25" y="938.40" width="3.30" height="3.60" fill="#000"/>
<rect x="413.00" y="941.00" width="15.80" height="70.30" fill="#000"/>
<rect x="435.50" y="992.30" width="19.00" height="19.00" fill="#000"/>
<rect x="438.70" y="995.50" width="12.60" height="14.10" fill="#fff"/>
<rect x="463.70" y="965.40" width="11.00" height="3.30" fill="#000"/>
<rect x="467.55" y="965.40" width="3.30" height="5.40" fill="#000"/>
<rect x="461.30" y="969.80" width="15.80" height="41.50" fill="#000"/>
<rect x="487.40" y="996.00" width="11.00" height="3.30" fill="#000"/>
<rect x="491.25" y="996.00" width="3.30" height="2.30" fill="#000"/>
<rect x="483.50" y="997.30" width="18.80" height="14.00" fill="#000"/>
<rect x="486.70" y="1000.50" width="12.40" height="9.10" fill="#fff"/>
<text x="324.40" y="909.80" font-size="14.3" class="b">CD86-2</text>
<text x="313.90" y="1029.90" font-size="12.8" class="b x">unstim.</text>
<text x="370.80" y="1029.90" font-size="12.8" class="b x">LPS</text>
<text x="418.00" y="1028.90" font-size="13" class="b x" textLength="20.9" lengthAdjust="spacing">IFN</text>
<text x="438.90" y="1029.50" class="g">&#947;</text>
<text x="453.90" y="1028.90" font-size="13" class="b x" textLength="52.6" lengthAdjust="spacing">LPS+IFN</text>
<text x="506.30" y="1029.50" class="g">&#947;</text>
</g>
<text x="13.4" y="24.4" font-size="24" class="b" textLength="18.4" lengthAdjust="spacingAndGlyphs">A</text>
<text x="53.4" y="23.8" font-size="16.2" class="b h">PU.1</text>
<text x="13.2" y="368.8" font-size="24" class="b" textLength="18.2" lengthAdjust="spacingAndGlyphs">B</text>
<text x="53.0" y="368.8" font-size="16.5" class="b h">NF-<tspan font-size="15.5" style="font-weight:normal;stroke-width:0.35px">&#954;</tspan>B p65 (RelA)</text>
<text x="14.2" y="720.0" font-size="24" class="b">C</text>
<text x="53.4" y="719.6" font-size="16.4" class="b h">IRF-4</text>
<text transform="translate(28.7,168.65) rotate(-90)" font-size="16.35" class="b h" text-anchor="middle">Relative Input Unit (%)</text>
<text transform="translate(28.7,514.15) rotate(-90)" font-size="16.35" class="b h" text-anchor="middle">Relative Input Unit (%)</text>
<text transform="translate(28.7,864.60) rotate(-90)" font-size="16.35" class="b h" text-anchor="middle">Relative Input Unit (%)</text>
</svg>
</body></html>
